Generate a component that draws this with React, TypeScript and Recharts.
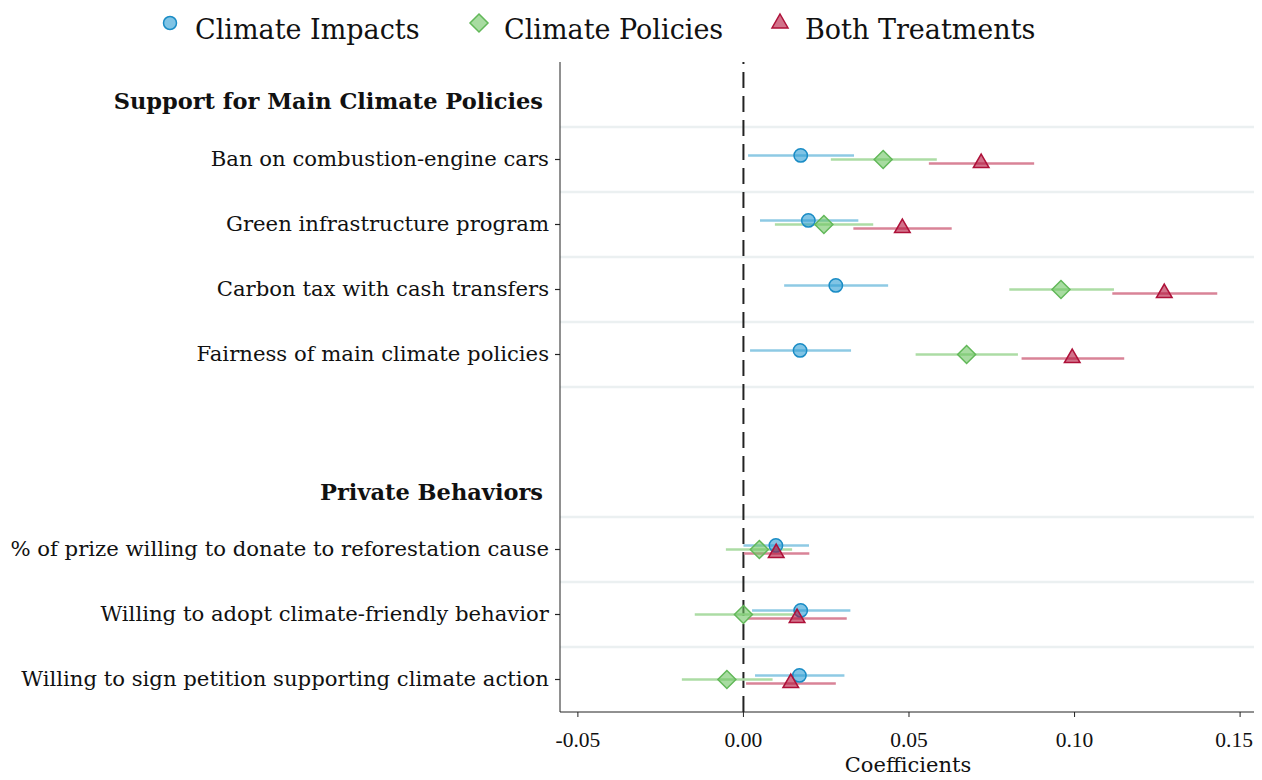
import React from "react";
import {
  ScatterChart,
  Scatter,
  XAxis,
  YAxis,
  ErrorBar,
  ReferenceLine,
} from "recharts";

const outcomes = [
  "Ban on combustion-engine cars",
  "Green infrastructure program",
  "Carbon tax with cash transfers",
  "Fairness of main climate policies",
  "% of prize willing to donate to reforestation cause",
  "Willing to adopt climate-friendly behavior",
  "Willing to sign petition supporting climate action",
];
const groupTitles = ["Support for Main Climate Policies", "Private Behaviors"];

const impactsEst = [0.0173, 0.0196, 0.0279, 0.0171, 0.0098, 0.0173, 0.0169];
const impactsLo = [0.0014, 0.005, 0.0123, 0.002, 0.0, 0.0026, 0.0035];
const impactsHi = [0.0334, 0.0347, 0.0437, 0.0325, 0.0198, 0.0323, 0.0305];

const policiesEst = [0.0422, 0.0243, 0.0959, 0.0674, 0.0048, 0.0, -0.005];
const policiesLo = [0.0264, 0.0095, 0.0803, 0.052, -0.0053, -0.0147, -0.0186];
const policiesHi = [0.0584, 0.0392, 0.1119, 0.0829, 0.0147, 0.015, 0.0088];

const bothEst = [0.0718, 0.048, 0.1271, 0.0993, 0.0099, 0.0162, 0.0143];
const bothLo = [0.056, 0.0332, 0.1114, 0.084, 0.0001, 0.0013, 0.0008];
const bothHi = [0.0878, 0.0629, 0.1431, 0.115, 0.0199, 0.0312, 0.0279];

const xTicks = [-0.05, 0, 0.05, 0.1, 0.15];

const FONT = "'DejaVu Serif', 'Liberation Serif', serif";
const NUM_FONT = "'Liberation Serif', 'DejaVu Serif', serif";

// row layout: 4 policy rows, a gap, 3 behaviour rows
const rowPos = (i: number) => (i < 4 ? i : i + 2);
const headerPos = [-0.9, 5.12];
const separators = [-0.5, 0.5, 1.5, 2.5, 3.5, 5.5, 6.5, 7.5];
const DODGE = 0.063;

const build = (est: number[], lo: number[], hi: number[], shift: number) =>
  est.map((v, i) => ({
    x: v,
    y: rowPos(i) + shift,
    err: [v - lo[i], hi[i] - v],
  }));

const impactsData = build(impactsEst, impactsLo, impactsHi, -DODGE);
const policiesData = build(policiesEst, policiesLo, policiesHi, 0);
const bothData = build(bothEst, bothLo, bothHi, DODGE);

const labelAt: Record<string, { text: string; bold: boolean }> = {};
outcomes.forEach((o, i) => (labelAt[String(rowPos(i))] = { text: o, bold: false }));
groupTitles.forEach((g, i) => (labelAt[String(headerPos[i])] = { text: g, bold: true }));
const yTicks = [...headerPos, ...outcomes.map((_, i) => rowPos(i))];

const BLUE = { fill: "rgba(43,157,212,0.6)", stroke: "#1a8cc5", bar: "#8ecae4" };
const GREEN = { fill: "rgba(110,196,98,0.6)", stroke: "#62b859", bar: "#acdca5" };
const RED = { fill: "rgba(180,20,60,0.6)", stroke: "#ae1139", bar: "#d98397" };

const Circle = (p: any) => (
  <circle cx={p.cx} cy={p.cy} r={6.7} fill={BLUE.fill} stroke={BLUE.stroke} strokeWidth={1.5} />
);
const Diamond = (p: any) => (
  <polygon
    points={`${p.cx},${p.cy - 9} ${p.cx + 9},${p.cy} ${p.cx},${p.cy + 9} ${p.cx - 9},${p.cy}`}
    fill={GREEN.fill}
    stroke={GREEN.stroke}
    strokeWidth={1.5}
  />
);
const Triangle = (p: any) => (
  <polygon
    points={`${p.cx},${p.cy - 9.5} ${p.cx + 7.8},${p.cy + 4} ${p.cx - 7.8},${p.cy + 4}`}
    fill={RED.fill}
    stroke={RED.stroke}
    strokeWidth={1.5}
  />
);

const YTick = (props: any) => {
  const { x, y, payload } = props;
  const info = labelAt[String(payload.value)];
  if (!info) return null;
  if (info.bold) {
    return (
      <text x={x - 17} y={y} dy="0.34em" textAnchor="end" fontFamily={FONT} fontSize={22.5} fontWeight="bold" fill="#111">
        {info.text}
      </text>
    );
  }
  return (
    <g>
      <line x1={x - 5} x2={x} y1={y} y2={y} stroke="#222" strokeWidth={1.2} />
      <text x={x - 11} y={y} dy="0.3em" textAnchor="end" fontFamily={FONT} fontSize={21.2} fill="#111">
        {info.text}
      </text>
    </g>
  );
};

// keep the last label inside the visible page
const XTick = (props: any) => {
  const { x, y, payload } = props;
  const shift = payload.value === 0.15 ? -6 : 0;
  return (
    <text x={x + shift} y={y} dy="0.71em" textAnchor="middle" fontFamily={NUM_FONT} fontSize={21.5} fill="#111">
      {payload.value.toFixed(2)}
    </text>
  );
};

const legendItems = [
  { name: "Climate Impacts", left: 154, Mark: () => <circle cx={16} cy={23} r={6.5} fill={BLUE.fill} stroke={BLUE.stroke} strokeWidth={1.5} /> },
  { name: "Climate Policies", left: 463, Mark: () => <polygon points="16,14 25,23 16,32 7,23" fill={GREEN.fill} stroke={GREEN.stroke} strokeWidth={1.5} /> },
  { name: "Both Treatments", left: 764, Mark: () => <polygon points="16,14 24,28 8,28" fill={RED.fill} stroke={RED.stroke} strokeWidth={1.5} /> },
];

export default function App() {
  return (
    <div style={{ position: "relative", width: 1262, height: 780, margin: "-8px 0 -8px -8px" }}>
      <ScatterChart width={1262} height={780} margin={{ top: 62, right: 6, bottom: 0, left: 0 }}>
        {separators.map((s) => (
          <ReferenceLine key={s} y={s} stroke="#ebf0f1" strokeWidth={2.5} />
        ))}
        <ReferenceLine x={0} stroke="#222" strokeWidth={2} strokeDasharray="16 8" />
        <XAxis
          type="number"
          dataKey="x"
          domain={[-0.0554, 0.1548]}
          ticks={xTicks}
          allowDataOverflow
          height={68}
          tickSize={5}
          tickMargin={15}
          stroke="#222"
          tick={<XTick />}
          label={{ value: "Coefficients", position: "insideBottom", offset: 8, fill: "#111", fontFamily: FONT, fontSize: 21 }}
        />
        <YAxis
          type="number"
          dataKey="y"
          domain={[-1.5, 8.5]}
          reversed
          allowDataOverflow
          ticks={yTicks}
          interval={0}
          width={560}
          tickSize={0}
          tickMargin={0}
          tickLine={false}
          stroke="#222"
          tick={<YTick />}
        />
        <Scatter data={impactsData} shape={Circle} isAnimationActive={false}>
          <ErrorBar dataKey="err" direction="x" width={0} stroke={BLUE.bar} strokeWidth={2.5} />
        </Scatter>
        <Scatter data={policiesData} shape={Diamond} isAnimationActive={false}>
          <ErrorBar dataKey="err" direction="x" width={0} stroke={GREEN.bar} strokeWidth={2.5} />
        </Scatter>
        <Scatter data={bothData} shape={Triangle} isAnimationActive={false}>
          <ErrorBar dataKey="err" direction="x" width={0} stroke={RED.bar} strokeWidth={2.5} />
        </Scatter>
      </ScatterChart>
      {legendItems.map(({ name, left, Mark }) => (
        <div
          key={name}
          style={{
            position: "absolute",
            top: 0,
            left,
            display: "flex",
            alignItems: "flex-start",
            fontFamily: FONT,
            fontSize: 27,
            color: "#111",
            whiteSpace: "nowrap",
          }}
        >
          <svg width={41} height={40}>
            <Mark />
          </svg>
          <span style={{ lineHeight: "40px", marginTop: 10 }}>{name}</span>
        </div>
      ))}
    </div>
  );
}
